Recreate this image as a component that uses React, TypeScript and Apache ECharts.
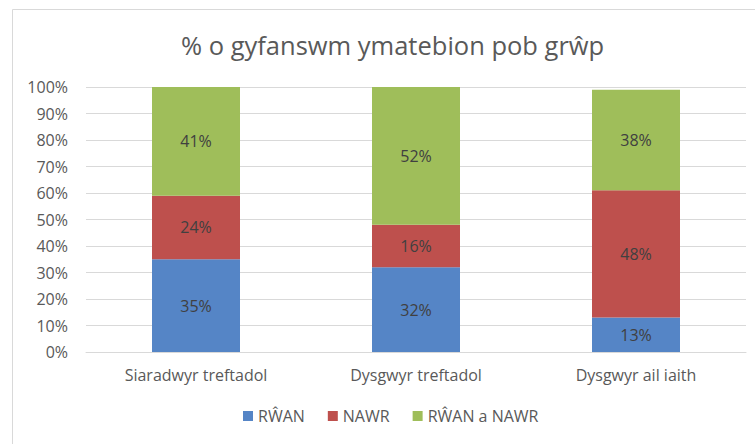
import React, { useEffect, useRef } from "react";
import * as echarts from "echarts";

const title = "% o gyfanswm ymatebion pob grŵp";
const categories = ["Siaradwyr treftadol", "Dysgwyr treftadol", "Dysgwyr ail iaith"];
const seriesNames = ["RŴAN", "NAWR", "RŴAN a NAWR"];
const rwan = [35, 32, 13];
const nawr = [24, 16, 48];
const rwanANawr = [41, 52, 38];
const colors = ["#5585C6", "#BE504D", "#9FBE5A"];
const yTicks = { min: 0, max: 100, interval: 10 };

const FONT = "Open Sans";

export default function App() {
  const ref = useRef<HTMLDivElement>(null);
  useEffect(() => {
    document.body.style.margin = "0";
    const chart = echarts.init(ref.current!, null, { renderer: "svg" });
    const values = [rwan, nawr, rwanANawr];
    chart.setOption({
      animation: false,
      backgroundColor: "#ffffff",
      textStyle: { fontFamily: FONT },
      title: {
        text: title,
        left: 176,
        top: 27,
        textStyle: { fontFamily: FONT, fontSize: 25.5, fontWeight: "normal", color: "#595959" },
      },
      graphic: [
        {
          type: "rect",
          shape: { x: 12.5, y: 9.5, width: 760, height: 460 },
          style: { fill: "none", stroke: "#d9d9d9", lineWidth: 1 },
          silent: true,
        },
      ],
      legend: {
        bottom: 15,
        left: 238,
        itemWidth: 10,
        itemHeight: 10,
        itemGap: 23,
        icon: "rect",
        textStyle: { fontFamily: FONT, fontSize: 16, color: "#595959" },
        data: seriesNames,
      },
      grid: { left: 86, right: 9, top: 87, bottom: 92, containLabel: false },
      xAxis: {
        type: "category",
        data: categories,
        axisLine: { lineStyle: { color: "#d9d9d9", width: 1 } },
        axisTick: { show: false },
        axisLabel: { fontFamily: FONT, fontSize: 16, color: "#595959", margin: 15 },
      },
      yAxis: {
        type: "value",
        min: yTicks.min,
        max: yTicks.max,
        interval: yTicks.interval,
        axisLine: { show: false },
        axisTick: { show: false },
        splitLine: { lineStyle: { color: "#d9d9d9", width: 1 } },
        axisLabel: {
          fontFamily: FONT,
          fontSize: 16,
          color: "#595959",
          margin: 18,
          formatter: (v: number) => v + "%",
        },
      },
      series: seriesNames.map((name, i) => ({
        name,
        type: "bar",
        stack: "total",
        barWidth: "40%",
        data: values[i],
        itemStyle: { color: colors[i] },
        label: {
          show: true,
          position: "inside",
          formatter: (p: any) => p.value + "%",
          fontFamily: FONT,
          fontSize: 16,
          color: "#404040",
        },
      })),
    });
    return () => chart.dispose();
  }, []);
  return <div ref={ref} style={{ width: 755, height: 444 }} />;
}
